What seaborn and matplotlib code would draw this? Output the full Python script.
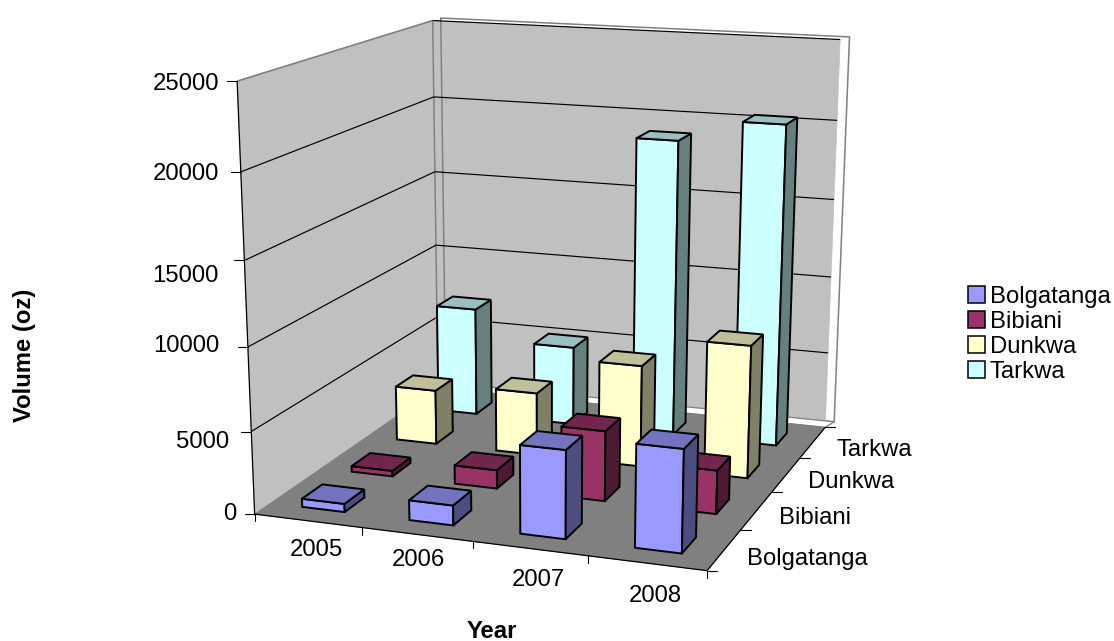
import numpy as np
import pandas as pd
import matplotlib
matplotlib.use("Agg")
import matplotlib.pyplot as plt
from matplotlib.patches import Polygon, Patch
import seaborn as sns

# Chart data
years = ["2005", "2006", "2007", "2008"]
mines = ["Bolgatanga", "Bibiani", "Dunkwa", "Tarkwa"]
bolgatanga = [500, 1200, 5250, 6050]
bibiani = [350, 1150, 4300, 2650]
dunkwa = [3500, 4000, 6400, 8300]
tarkwa = [7100, 5150, 19000, 20400]
value_ticks = [0, 5000, 10000, 15000, 20000, 25000]
value_max = 25000

mine_colors = ["#9999FF", "#993366", "#FFFFCC", "#CCFFFF"]
bar_width = 0.40

# Camera calibration: floor/wall landmarks (year slot, mine slot, value) and where they sit on the canvas
cal_world = np.array([
    (0, 0, 0), (1, 0, 0), (2, 0, 0), (3, 0, 0), (4, 0, 0),
    (4, 1, 0), (4, 2, 0), (4, 3, 0), (4, 4, 0), (0, 4, 0),
    (0, 0, 25000), (0, 0, 20000), (0, 4, 25000), (0, 4, 20000),
    (4, 4, 25000),
], float)
cal_pixel = np.array([
    (255, 513), (361.6, 526), (472.7, 541.5), (588, 556.5), (707.5, 572),
    (741.7, 530), (771.7, 492), (799, 457), (825, 427), (438, 390),
    (237, 82), (240.5, 172), (433, 20), (434, 96),
    (840, 40),
], float)


def fit_camera(world, pixel):
    rows, rhs = [], []
    for (x, y, z), (u, v) in zip(world, pixel):
        z = z / value_max
        rows.append([x, y, z, 1, 0, 0, 0, 0, -u * x, -u * y, -u * z])
        rhs.append(u)
        rows.append([0, 0, 0, 0, x, y, z, 1, -v * x, -v * y, -v * z])
        rhs.append(v)
    p = np.linalg.lstsq(np.array(rows), np.array(rhs), rcond=None)[0]
    return np.append(p, 1).reshape(3, 4)


camera = fit_camera(cal_world, cal_pixel)


def project(x, y, z):
    h = camera @ np.array([x, y, z / value_max, 1.0])
    return h[0] / h[2], h[1] / h[2]


def face(ax, corners, fc, ec="black", lw=1.4, z=1):
    pts = [project(*c) for c in corners]
    ax.add_patch(Polygon(pts, closed=True, facecolor=fc, edgecolor=ec,
                         linewidth=lw, joinstyle="miter", zorder=z))


def line3d(ax, a, b, color="black", lw=0.8, z=1):
    pa, pb = project(*a), project(*b)
    ax.plot([pa[0], pb[0]], [pa[1], pb[1]], color=color, lw=lw, zorder=z,
            solid_capstyle="butt")


sns.set_theme(style="white")
plt.rcParams["font.family"] = ["Liberation Sans", "DejaVu Sans"]
palette = sns.color_palette(mine_colors)

records = pd.DataFrame({"Bolgatanga": bolgatanga, "Bibiani": bibiani,
                        "Dunkwa": dunkwa, "Tarkwa": tarkwa}, index=years)
long_form = (records.reset_index(names="year")
             .melt(id_vars="year", var_name="mine", value_name="volume"))
long_form["xi"] = long_form["year"].map(years.index)
long_form["yi"] = long_form["mine"].map(mines.index)

fig = plt.figure(figsize=(11.14, 6.41), dpi=100)
ax = fig.add_axes([0, 0, 1, 1])
ax.set_xlim(0, 1114)
ax.set_ylim(641, 0)
ax.axis("off")

# Walls and floor
wall_grey = "#C0C0C0"
edge_grey = "#808080"
slab = 4.2
slab_x = 4.04
face(ax, [(0, slab, value_max), (slab_x, slab, value_max), (slab_x, slab, 0), (0, slab, 0)],
     "white", edge_grey, 1.1, z=1)
face(ax, [(0, 4, value_max), (4, 4, value_max), (4, 4, 0), (0, 4, 0)],
     wall_grey, wall_grey, 0.5, z=1.1)
face(ax, [(0, 0, value_max), (0, 4, value_max), (0, 4, 0), (0, 0, 0)],
     wall_grey, wall_grey, 0.5, z=1.2)
line3d(ax, (0, 4, 0), (0, 4, value_max), edge_grey, 1.1, z=1.3)
line3d(ax, (0, slab, 0), (0, slab, value_max), edge_grey, 1.1, z=1.3)
line3d(ax, (0, 0, value_max), (0, 4, value_max), edge_grey, 1.2, z=1.3)
for v in value_ticks:
    if v > 0:
        if v < value_max:
            line3d(ax, (0, 0, v), (0, 4, v), "black", 0.85, z=1.4)
        line3d(ax, (0, 4, v), (4, 4, v), "black", 0.85, z=1.4)
face(ax, [(0, 4, 0), (4, 4, 0), (slab_x, slab, 0), (0, slab, 0)], "white", edge_grey, 0.9, z=1.45)
face(ax, [(0, 0, 0), (4, 0, 0), (4, 4, 0), (0, 4, 0)], edge_grey, edge_grey, 0.5, z=1.5)

# Axis lines and ticks
line3d(ax, (0, 0, 0), (4, 0, 0), "black", 0.9, z=1.6)
line3d(ax, (4, 0, 0), (4, 4, 0), "black", 0.9, z=1.6)
line3d(ax, (0, 0, 0), (0, 0, value_max), "black", 0.9, z=1.6)
for v in value_ticks:
    px, py = project(0, 0, v)
    ax.plot([px - 10, px], [py, py], color="black", lw=0.8, zorder=1.6)
for i in range(len(years) + 1):
    px, py = project(i, 0, 0)
    ax.plot([px, px], [py, py + 7], color="black", lw=0.8, zorder=1.6)
for j in range(len(mines) + 1):
    px, py = project(4, j, 0)
    ax.plot([px, px + 10], [py, py], color="black", lw=0.8, zorder=1.6)

# Columns, painted from the back row forward
order = long_form.sort_values(["yi", "xi"], ascending=[False, True])
rank = 2.0
for row in order.itertuples():
    base = np.array(palette[row.yi])
    x0 = row.xi + 0.5 - bar_width / 2
    x1 = row.xi + 0.5 + bar_width / 2
    y0 = row.yi + 0.5 - bar_width / 2
    y1 = row.yi + 0.5 + bar_width / 2
    h = row.volume
    face(ax, [(x0, y0, 0), (x1, y0, 0), (x1, y0, h), (x0, y0, h)], tuple(base), z=rank)
    face(ax, [(x1, y0, 0), (x1, y1, 0), (x1, y1, h), (x1, y0, h)], tuple(base * 0.5), z=rank)
    face(ax, [(x0, y0, h), (x1, y0, h), (x1, y1, h), (x0, y1, h)], tuple(base * 0.75), z=rank)
    rank += 0.01

# Text
fs = 17.2
value_label_pos = {0: (236, 511), 5000: (229, 439), 10000: (219, 343),
                   15000: (219, 274), 20000: (219, 172), 25000: (219, 82)}
for v, (tx, ty) in value_label_pos.items():
    ax.text(tx, ty, str(v), ha="right", va="center_baseline", fontsize=fs, color="black")
year_label_pos = [(316, 548), (418, 558), (538, 578), (655, 593)]
for name, (tx, ty) in zip(years, year_label_pos):
    ax.text(tx, ty, name, ha="center", va="center_baseline", fontsize=fs, color="black")
mine_label_pos = [(807, 556), (815, 516), (851, 479), (874, 447)]
for name, (tx, ty) in zip(mines, mine_label_pos):
    ax.text(tx, ty, name, ha="center", va="center_baseline", fontsize=fs, color="black")
ax.text(492, 629, "Year", ha="center", va="center_baseline", fontsize=fs, fontweight="bold", color="black")
ax.text(25, 355, "Volume (oz)", ha="center", va="center", rotation=90,
        fontsize=fs, fontweight="bold", color="black")

handles = [Patch(facecolor=c, edgecolor="black", linewidth=1.1, label=m)
           for c, m in zip(palette, mines)]
ax.legend(handles=handles, loc="upper left", bbox_to_anchor=(968 / 1114, 1 - 286 / 641),
          frameon=False, fontsize=fs, handlelength=0.72, handleheight=0.72,
          handletextpad=0.2, labelspacing=0.13, borderaxespad=0, borderpad=0,
          labelcolor="black")

fig.savefig("out.png", dpi=100)
